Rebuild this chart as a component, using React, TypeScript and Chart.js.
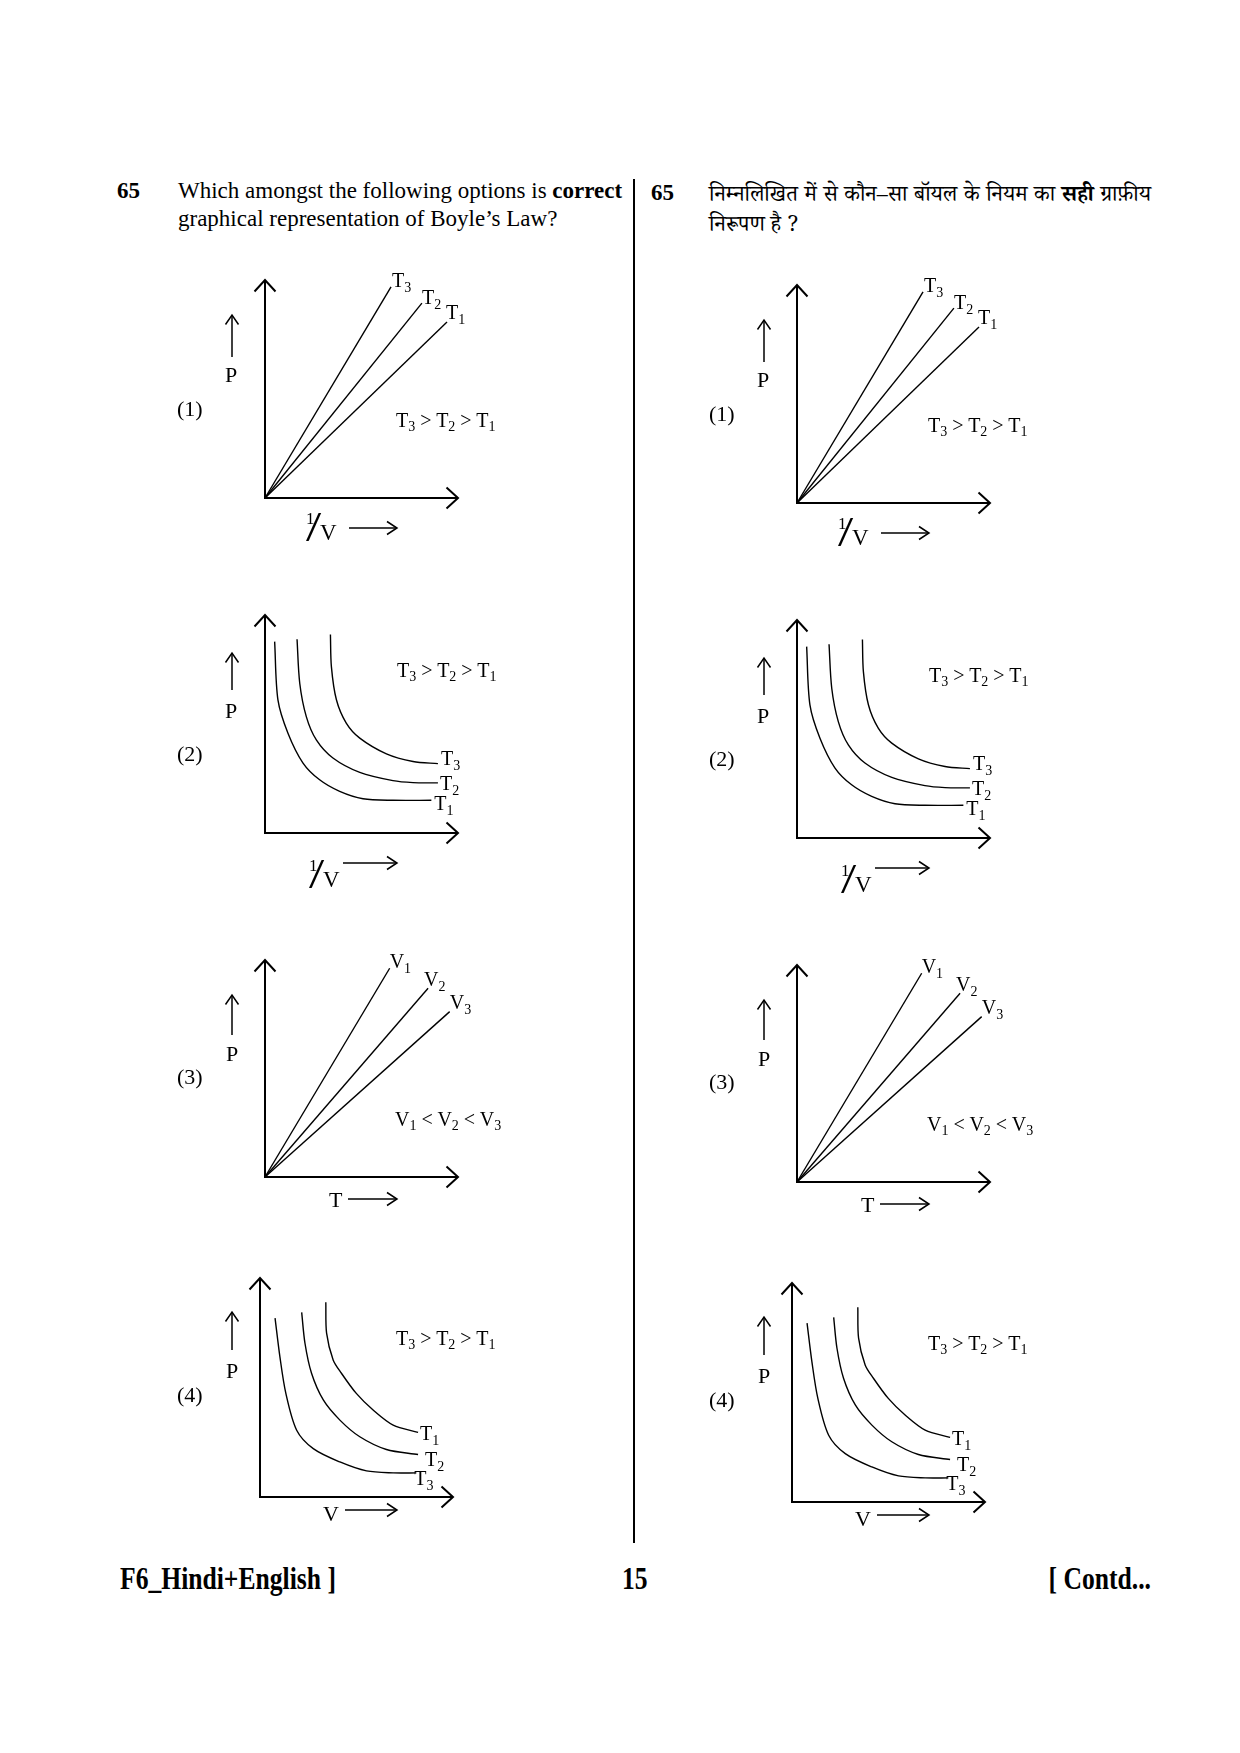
import React, { useEffect, useRef } from "react";
import { Chart, registerables } from "chart.js";

Chart.register(...registerables);

type Pt = [number, number];

// ---------------- DATA (axis units 0..10, 10 = arrow tip) ----------------
// Option (1): P vs 1/V
const G1_NAMES = ["T3", "T2", "T1"];
const G1_T3: Pt[] = [[0, 0], [6.53, 9.68]];
const G1_T2: Pt[] = [[0, 0], [8.13, 8.94]];
const G1_T1: Pt[] = [[0, 0], [9.43, 8.07]];

// Option (2): P vs 1/V (curves)
const G2_NAMES = ["T3", "T2", "T1"];
const G2_T3: Pt[] = [[3.39, 9.11], [3.44, 7.63], [3.7, 6.11], [4.21, 5.04], [4.91, 4.35], [6.29, 3.63], [7.67, 3.28], [8.96, 3.18]];
const G2_T2: Pt[] = [[1.66, 8.89], [1.8, 6.87], [2.14, 5.34], [2.66, 4.27], [3.52, 3.44], [4.91, 2.78], [6.63, 2.4], [7.67, 2.31], [8.96, 2.3]];
const G2_T1: Pt[] = [[0.5, 8.78], [0.67, 6.11], [1.19, 4.58], [1.97, 3.21], [2.83, 2.44], [3.87, 1.91], [5.08, 1.57], [6.63, 1.5], [8.62, 1.5]];

// Option (3): P vs T
const G3_NAMES = ["V1", "V2", "V3"];
const G3_V1: Pt[] = [[0, 0], [6.46, 9.62]];
const G3_V2: Pt[] = [[0, 0], [8.45, 8.7]];
const G3_V3: Pt[] = [[0, 0], [9.57, 7.62]];

// Option (4): P vs V
const G4_NAMES = ["T1", "T2", "T3"];
const G4_T1: Pt[] = [[3.41, 8.89], [3.45, 7.48], [3.79, 6.26], [4.22, 5.65], [4.99, 4.73], [5.86, 3.97], [6.9, 3.28], [8.19, 2.95]];
const G4_T2: Pt[] = [[2.16, 8.43], [2.33, 7.02], [2.67, 5.65], [3.28, 4.43], [4.14, 3.51], [5.17, 2.75], [6.55, 2.17], [8.19, 1.94]];
const G4_T3: Pt[] = [[0.78, 8.17], [1.03, 6.41], [1.34, 4.73], [1.9, 3.05], [2.76, 2.21], [4.14, 1.6], [5.52, 1.19], [6.9, 1.1], [8.1, 1.1]];

// ---------------- LAYOUT / STYLE ----------------
const SERIF = "'Liberation Serif', 'Times New Roman', Times, serif";
const DEVA = "'Noto Serif Devanagari', 'Noto Sans Devanagari', 'Lohit Devanagari', 'Mangal', 'Liberation Serif', serif";
const PADL = 110, PADT = 30, PADR = 70, PADB = 50;
const RIGHT_DX = 532, RIGHT_DY = 5;

type Layout = {
  ox: number; oy: number; w: number; h: number;
  pArrow: [number, number, number];
  xArrow: [number, number, number];
  labelOff: [number, number][];
  tension: number;
};

const L1: Layout = { ox: 265, oy: 498, w: 193, h: 218, pArrow: [232, 315, 357], xArrow: [349, 397, 528], labelOff: [[1, 0], [0, 1], [-1, -3]], tension: 0 };
const L2: Layout = { ox: 265, oy: 833, w: 193, h: 218, pArrow: [232, 653, 690], xArrow: [343, 397, 863], labelOff: [[3, 1], [2, 7], [3, 10]], tension: 0.3 };
const L3: Layout = { ox: 265, oy: 1177, w: 193, h: 217, pArrow: [232, 995, 1035], xArrow: [348, 397, 1199], labelOff: [[0, 0], [-4, -2], [0, -3]], tension: 0 };
const L4: Layout = { ox: 260, oy: 1497, w: 193, h: 219, pArrow: [232, 1312, 1350], xArrow: [345, 397, 1510], labelOff: [[2, 8], [7, 11], [-2, 12]], tension: 0.3 };

function Graph({ layout, names, series, dx, dy }: { layout: Layout; names: string[]; series: Pt[][]; dx: number; dy: number }) {
  const ref = useRef<HTMLCanvasElement>(null);
  const W = layout.w + PADL + PADR;
  const H = layout.h + PADT + PADB;
  const cl = layout.ox - PADL;
  const ct = layout.oy - layout.h - PADT;
  useEffect(() => {
    const canvas = ref.current!;
    const deco = {
      id: "deco",
      afterDatasetsDraw(chart: any) {
        const { ctx, chartArea } = chart;
        const { left, right, top, bottom } = chartArea;
        ctx.save();
        ctx.strokeStyle = "#000";
        ctx.fillStyle = "#000";
        ctx.lineJoin = "miter";
        // axes
        ctx.lineWidth = 2;
        ctx.beginPath();
        ctx.moveTo(left, top);
        ctx.lineTo(left, bottom);
        ctx.lineTo(right, bottom);
        ctx.stroke();
        ctx.beginPath();
        ctx.moveTo(left - 10.5, top + 11.5);
        ctx.lineTo(left, top);
        ctx.lineTo(left + 10.5, top + 11.5);
        ctx.stroke();
        ctx.beginPath();
        ctx.moveTo(right - 11.5, bottom - 10.5);
        ctx.lineTo(right, bottom);
        ctx.lineTo(right - 11.5, bottom + 10.5);
        ctx.stroke();
        // small direction arrows
        ctx.lineWidth = 1.5;
        const [px, py1, py2] = layout.pArrow;
        const ax = px - cl, ay1 = py1 - ct, ay2 = py2 - ct;
        ctx.beginPath();
        ctx.moveTo(ax, ay2);
        ctx.lineTo(ax, ay1);
        ctx.stroke();
        ctx.beginPath();
        ctx.moveTo(ax - 6.5, ay1 + 9.5);
        ctx.lineTo(ax, ay1);
        ctx.lineTo(ax + 6.5, ay1 + 9.5);
        ctx.stroke();
        const [qx1, qx2, qy] = layout.xArrow;
        const bx1 = qx1 - cl, bx2 = qx2 - cl, by = qy - ct;
        ctx.beginPath();
        ctx.moveTo(bx1, by);
        ctx.lineTo(bx2, by);
        ctx.stroke();
        ctx.beginPath();
        ctx.moveTo(bx2 - 10, by - 6.5);
        ctx.lineTo(bx2, by);
        ctx.lineTo(bx2 - 10, by + 6.5);
        ctx.stroke();
        // series end labels
        chart.data.datasets.forEach((ds: any, i: number) => {
          const meta = chart.getDatasetMeta(i);
          const last = meta.data[meta.data.length - 1];
          const [ox, oy] = layout.labelOff[i];
          const label: string = ds.label;
          const main = label.slice(0, 1);
          const sub = label.slice(1);
          const x = last.x + ox, y = last.y + oy;
          ctx.textBaseline = "alphabetic";
          ctx.font = `20px ${SERIF}`;
          ctx.fillText(main, x, y);
          const mw = ctx.measureText(main).width;
          ctx.font = `14px ${SERIF}`;
          ctx.fillText(sub, x + mw, y + 5);
        });
        ctx.restore();
      },
    };
    const chart = new Chart(canvas, {
      type: "line",
      data: {
        datasets: names.map((n, i) => ({
          label: n,
          data: series[i].map(([x, y]) => ({ x, y })),
          borderColor: "#000",
          borderWidth: 1.4,
          pointRadius: 0,
          fill: false,
          tension: layout.tension,
          clip: false as any,
        })),
      },
      options: {
        animation: false,
        responsive: false,
        maintainAspectRatio: false,
        devicePixelRatio: 1,
        events: [],
        layout: { padding: { left: PADL, top: PADT, right: PADR, bottom: PADB } },
        scales: {
          x: { type: "linear", min: 0, max: 10, display: false },
          y: { type: "linear", min: 0, max: 10, display: false },
        },
        plugins: { legend: { display: false }, tooltip: { enabled: false } },
      },
      plugins: [deco],
    });
    return () => chart.destroy();
  }, []);
  return (
    <canvas
      ref={ref}
      width={W}
      height={H}
      style={{ position: "absolute", left: cl + dx, top: ct + dy, width: W, height: H }}
    />
  );
}

function Txt({ x, y, size, bold, family, children, style }: any) {
  return (
    <div
      style={{
        position: "absolute",
        left: x,
        top: y - 0.8375 * size,
        fontSize: size,
        lineHeight: 1,
        fontFamily: family ?? SERIF,
        fontWeight: bold ? 700 : 400,
        whiteSpace: "nowrap",
        color: "#000",
        ...style,
      }}
    >
      {children}
    </div>
  );
}

function Sub({ children }: any) {
  return <span style={{ fontSize: "0.7em", position: "relative", top: "0.3em" }}>{children}</span>;
}

function InvV({ x0, yb }: { x0: number; yb: number }) {
  return (
    <>
      <Txt x={x0 - 1} y={yb - 16} size={17}>1</Txt>
      <Txt x={x0 - 1} y={yb + 1} size={42} style={{ transform: "scaleX(1.3)", transformOrigin: "left" }}>/</Txt>
      <Txt x={x0 + 13} y={yb} size={23}>V</Txt>
    </>
  );
}

function Column({ dx, dy }: { dx: number; dy: number }) {
  const X = (v: number) => v + dx;
  const Y = (v: number) => v + dy;
  return (
    <>
      <Graph layout={L1} names={G1_NAMES} series={[G1_T3, G1_T2, G1_T1]} dx={dx} dy={dy} />
      <Graph layout={L2} names={G2_NAMES} series={[G2_T3, G2_T2, G2_T1]} dx={dx} dy={dy} />
      <Graph layout={L3} names={G3_NAMES} series={[G3_V1, G3_V2, G3_V3]} dx={dx} dy={dy} />
      <Graph layout={L4} names={G4_NAMES} series={[G4_T1, G4_T2, G4_T3]} dx={dx} dy={dy} />

      {/* (1) */}
      <Txt x={X(177)} y={Y(416)} size={22}>(1)</Txt>
      <Txt x={X(225)} y={Y(382)} size={22}>P</Txt>
      <Txt x={X(396)} y={Y(427)} size={20}>T<Sub>3</Sub>{" > "}T<Sub>2</Sub>{" > "}T<Sub>1</Sub></Txt>
      <InvV x0={X(307)} yb={Y(540)} />

      {/* (2) */}
      <Txt x={X(177)} y={Y(761)} size={22}>(2)</Txt>
      <Txt x={X(225)} y={Y(718)} size={22}>P</Txt>
      <Txt x={X(397)} y={Y(677)} size={20}>T<Sub>3</Sub>{" > "}T<Sub>2</Sub>{" > "}T<Sub>1</Sub></Txt>
      <InvV x0={X(310)} yb={Y(887)} />

      {/* (3) */}
      <Txt x={X(177)} y={Y(1084)} size={22}>(3)</Txt>
      <Txt x={X(226)} y={Y(1061)} size={22}>P</Txt>
      <Txt x={X(395)} y={Y(1126)} size={20}>V<Sub>1</Sub>{" < "}V<Sub>2</Sub>{" < "}V<Sub>3</Sub></Txt>
      <Txt x={X(329)} y={Y(1207)} size={22}>T</Txt>

      {/* (4) */}
      <Txt x={X(177)} y={Y(1402)} size={22}>(4)</Txt>
      <Txt x={X(226)} y={Y(1378)} size={22}>P</Txt>
      <Txt x={X(396)} y={Y(1345)} size={20}>T<Sub>3</Sub>{" > "}T<Sub>2</Sub>{" > "}T<Sub>1</Sub></Txt>
      <Txt x={X(323)} y={Y(1521)} size={22}>V</Txt>
    </>
  );
}

export default function App() {
  return (
    <div style={{ position: "absolute", left: 0, top: 0, width: 1240, height: 1753, background: "#fff", overflow: "hidden" }}>
      {/* English header */}
      <Txt x={117} y={198.5} size={23} bold>65</Txt>
      <div
        style={{
          position: "absolute", left: 178, top: 198.5 - 0.8375 * 23, width: 441, fontSize: 23, lineHeight: 1,
          fontFamily: SERIF, textAlign: "justify", textAlignLast: "justify", whiteSpace: "nowrap",
        }}
      >
        Which amongst the following options is <b>correct</b>
      </div>
      <Txt x={178} y={226} size={23}>graphical representation of Boyle’s Law?</Txt>

      {/* Hindi header */}
      <Txt x={651} y={200.5} size={23} bold>65</Txt>
      <div
        style={{
          position: "absolute", left: 709, top: 205 - 0.8375 * 22, width: 442, fontSize: 22, lineHeight: 1,
          fontFamily: DEVA, textAlign: "justify", textAlignLast: "justify", whiteSpace: "nowrap",
        }}
      >
        निम्नलिखित में से कौन–सा बॉयल के नियम का <b>सही</b> ग्राफ़ीय
      </div>
      <Txt x={709} y={235.5} size={22} family={DEVA}>निरूपण है ?</Txt>

      {/* separator */}
      <div style={{ position: "absolute", left: 633, top: 179, width: 2, height: 1364, background: "#000" }} />

      <Column dx={0} dy={0} />
      <Column dx={RIGHT_DX} dy={RIGHT_DY} />

      {/* footer */}
      <Txt x={120} y={1589} size={32} bold style={{ transform: "scaleX(0.8)", transformOrigin: "left" }}>F6_Hindi+English ]</Txt>
      <Txt x={622} y={1589} size={32} bold style={{ transform: "scaleX(0.8)", transformOrigin: "left" }}>15</Txt>
      <Txt x={0} y={1589} size={32} bold style={{ left: "auto", right: 89, transform: "scaleX(0.8)", transformOrigin: "right" }}>[ Contd...</Txt>
    </div>
  );
}
